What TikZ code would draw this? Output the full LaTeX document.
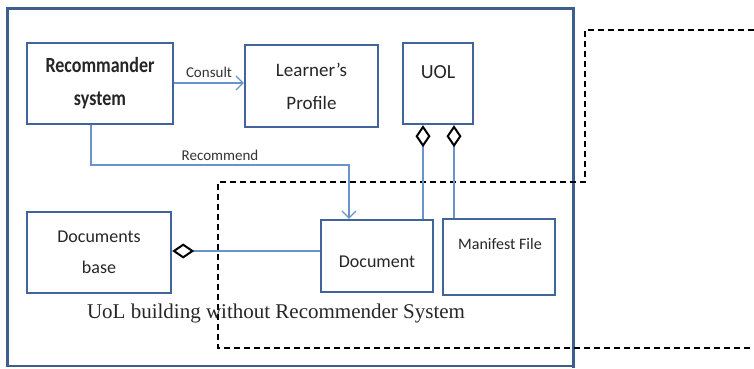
\documentclass[tikz,border=0pt]{standalone}
\usepackage{fontspec}
\setsansfont{Carlito}
\newfontfamily\tnr{Liberation Serif}
\usetikzlibrary{arrows.meta}
\definecolor{frameblue}{HTML}{3E5F8E}
\definecolor{boxblue}{HTML}{41649A}
\definecolor{linkblue}{HTML}{6A93CC}
\tikzset{
  box/.style={draw=boxblue, line width=2.4pt, fill=white, inner sep=0pt, align=center,
    font=\sffamily\fontsize{19}{33}\selectfont, text=black!85},
  boxtext/.style={font=\sffamily\fontsize{19}{22}\selectfont, text=black!85, inner sep=0pt},
  link/.style={draw=linkblue, line width=1.2pt},
  openarrow/.style={-{Straight Barb[length=7pt,width=14pt,line width=1.2pt]}},
  agg/.style={{Diamond[open,length=22pt,width=15pt,line width=2pt,black]}-},
  lbl/.style={font=\sffamily\fontsize{15}{17}\selectfont, text=black!80, inner sep=1pt},
}
\begin{document}
\begin{tikzpicture}[x=1pt,y=-1pt]
\useasboundingbox (0,0) rectangle (754,368);
% outer frame
\draw[frameblue, line width=3pt] (7,367) -- (7,8) -- (573,8) -- (573,368);
\draw[frameblue, line width=1.5pt] (7,366) -- (573,366);
% dashed region
\draw[black, line width=1.3pt, dash pattern=on 6pt off 4pt]
  (754,30) -- (585,30) -- (585,182) -- (218,182) -- (218,348) -- (754,348);
% boxes
\node[box, minimum width=146pt, minimum height=81pt, font=\sffamily\bfseries\fontsize{18}{33}\selectfont] (rec) at (100,83.5) {\scalebox{1}[1.2]{Recommander}\\\scalebox{1}[1.2]{system}};
\node[box, minimum width=133pt, minimum height=82pt] (lp) at (311.5,86) {Learner’s\\Profile};
\node[box, minimum width=70pt, minimum height=81pt] (uol) at (438,83.5) {};
\node[boxtext, font=\sffamily\fontsize{20}{22}\selectfont] (uoltxt) at (438,72) {UOL};
\node[box, minimum width=144pt, minimum height=81pt, font=\sffamily\fontsize{18}{31}\selectfont] (db) at (99,252.5) {Documents\\base};
\node[box, minimum width=112pt, minimum height=72pt] (doc) at (377,256) {};
\node[boxtext, font=\sffamily\fontsize{18}{20}\selectfont] (doctxt) at (377,262) {Document};
\node[box, minimum width=112pt, minimum height=76pt] (mf) at (499,257) {};
\node[boxtext, font=\sffamily\fontsize{16}{18}\selectfont] (mftxt) at (500,244) {Manifest File};
% connectors
\coordinate (c1) at (91,165);
\coordinate (c2) at (349,165);
\draw[link, openarrow] (rec.east |- 0,83) -- node[lbl, above=4pt] {Consult} (lp.west |- 0,83);
\draw[link, openarrow] (rec.south -| c1) -- (c1) -- node[lbl, above=3pt] {Recommend} (c2) -- (doc.north -| c2);
\draw[link, agg] (db.east |- 0,251) -- (doc.west |- 0,251);
\draw[link, agg] (uol.south -| 423,0) -- (doc.north -| 423,0);
\draw[link, agg] (uol.south -| 454,0) -- (mf.north -| 454,0);
% caption
\node[font=\tnr\fontsize{21}{23}\selectfont, text=black!85] (cap) at (276,313) {UoL building without Recommender System};
\end{tikzpicture}
\end{document}
